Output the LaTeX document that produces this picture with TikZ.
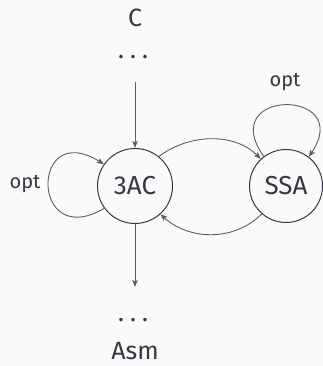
\documentclass[tikz,border=0pt]{standalone}
\usepackage{fontspec}
\setmainfont{Fira Sans}
\definecolor{bgcol}{RGB}{250, 250, 250}
\definecolor{inkcol}{RGB}{58, 52, 68}
\definecolor{edgecol}{RGB}{95, 92, 100}
\usetikzlibrary{arrows.meta, positioning}

\tikzset{
  state/.style={circle, draw=inkcol, line width=1pt, text=inkcol, font=\fontsize{26}{30}\selectfont},
  lbl/.style={text=inkcol, anchor=base, inner sep=0pt, font=\fontsize{25}{30}\selectfont},
  optlbl/.style={text=inkcol, font=\fontsize{20}{24}\selectfont},
  trans/.style={draw=edgecol, line width=0.9pt, -{Stealth[length=7pt, width=5.5pt, inset=1.5pt]}}
}
\newcommand{\spreaddots}{.\hspace{6pt}.\hspace{6pt}.}

\begin{document}
\begin{tikzpicture}[x=1pt, y=1pt]
  % Canvas
  \useasboundingbox[fill=bgcol] (0, 0) rectangle (323, 366);

  % States
  \node[state, minimum size=75pt] (tac) at (135, 180) {3AC};
  \node[state, minimum size=73pt] (ssa) at (286, 180) {SSA};

  % Source and target
  \node[lbl] (src) at (135, 339) {C};
  \node[lbl] (srcdots) at (133, 307) {\spreaddots};
  \node[lbl] (dstdots) at (133, 44) {\spreaddots};
  \node[lbl] (dst) at (135, 6) {Asm};
  \coordinate (intop) at (135, 284);
  \coordinate (outbot) at (135, 79);

  % Loop labels
  \node[optlbl] (optl) at (25, 182) {opt};
  \node[optlbl] (optr) at (285, 284) {opt};

  % Edges
  \draw[trans] (intop) -- (tac.north);
  \draw[trans] (tac.south) -- (outbot);
  \draw[trans] (tac.51) .. controls (190, 233) and (235, 233) .. (ssa.133);
  \draw[trans] (ssa.229) .. controls (235, 125) and (190, 125) .. (tac.312);
  \draw[trans] (tac.216) .. controls (30, 114) and (30, 248) .. (tac.145);
  \draw[trans] (ssa.127) .. controls (215, 278) and (355, 278) .. (ssa.52);
\end{tikzpicture}
\end{document}
